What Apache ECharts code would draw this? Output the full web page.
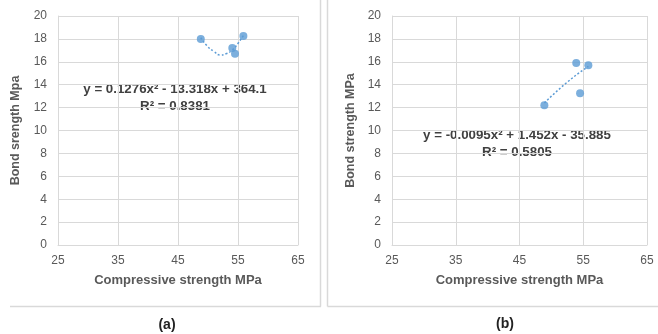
<!DOCTYPE html>
<html>
<head>
<meta charset="utf-8">
<script src="https://cdn.jsdelivr.net/npm/echarts@6/dist/echarts.min.js"></script>
<style>
  html, body { margin: 0; padding: 0; background: #fff; }
  #chart { width: 658px; height: 334px; }
</style>
</head>
<body>
<div id="chart"></div>
<script>
// panel (a): bond strength vs compressive strength
const pointsA = [[48.8, 18.0], [54.05, 17.2], [54.5, 16.7], [55.9, 18.25]];
const trendA = [[48.8, 18.1], [50, 17.3], [51, 16.9], [52, 16.6], [53, 16.7], [54, 17.0], [55, 17.6], [55.9, 18.3]];
// panel (b)
const pointsB = [[48.9, 12.2], [53.9, 15.9], [54.5, 13.25], [55.8, 15.7]];
const trendB = [[48.9, 12.4], [50, 13.0], [52, 14.0], [54, 14.9], [55.8, 15.6]];

const xTicks = [25, 35, 45, 55, 65];
const yTicks = [0, 2, 4, 6, 8, 10, 12, 14, 16, 18, 20];
const labelsA = ['y = 0.1276x\u00b2 - 13.318x + 364.1', 'R\u00b2 = 0.8381'];
const labelsB = ['y = -0.0095x\u00b2 + 1.452x - 35.885', 'R\u00b2 = 0.5805'];
const yTitles = ['Bond srength Mpa', 'Bond strength MPa'];
const xTitle = 'Compressive strength MPa';
const panelNames = ['(a)', '(b)'];

const FONT = '"Liberation Sans", Arial, sans-serif';
const BLUE = '#5B9BD5';
const GRID = '#d9d9d9';

function xAxis(gridIndex) {
    return {
        gridIndex: gridIndex,
        type: 'value',
        min: xTicks[0],
        max: xTicks[xTicks.length - 1],
        interval: 10,
        name: xTitle,
        nameLocation: 'middle',
        nameGap: 29,
        nameTextStyle: { fontFamily: FONT, fontSize: 13, fontWeight: 'bold', color: '#595959' },
        axisLine: { show: true, lineStyle: { color: GRID } },
        axisTick: { show: false },
        axisLabel: { fontFamily: FONT, fontSize: 12, color: '#595959', margin: 10 },
        splitLine: { show: true, lineStyle: { color: GRID } }
    };
}

function yAxis(gridIndex, title, gap) {
    return {
        gridIndex: gridIndex,
        type: 'value',
        min: yTicks[0],
        max: yTicks[yTicks.length - 1],
        interval: 2,
        name: title,
        nameLocation: 'middle',
        nameGap: gap,
        nameTextStyle: { fontFamily: FONT, fontSize: 12.5, fontWeight: 'bold', color: '#595959' },
        axisLine: { show: true, lineStyle: { color: GRID } },
        axisTick: { show: false },
        axisLabel: { fontFamily: FONT, fontSize: 12, color: '#595959', margin: 11 },
        splitLine: { show: true, lineStyle: { color: GRID } }
    };
}

function scatter(idx, data) {
    return {
        type: 'scatter',
        xAxisIndex: idx,
        yAxisIndex: idx,
        data: data,
        symbolSize: 8,
        itemStyle: { color: BLUE },
        z: 3
    };
}

function trend(idx, data, smooth) {
    return {
        type: 'line',
        xAxisIndex: idx,
        yAxisIndex: idx,
        data: data,
        smooth: smooth,
        showSymbol: false,
        lineStyle: { color: BLUE, width: 1.5, type: [2, 2] },
        z: 2
    };
}

function eqText(cx, top, lines) {
    return {
        type: 'text',
        x: cx,
        y: top,
        style: {
            text: lines.join('\n'),
            align: 'center',
            verticalAlign: 'top',
            lineHeight: 17,
            fontFamily: FONT,
            fontSize: 13.3,
            fontWeight: 'bold',
            fill: '#404040'
        }
    };
}

const chart = echarts.init(document.getElementById('chart'));

chart.setOption({
    animation: false,
    grid: [
        { left: 58, right: 360, top: 16, bottom: 89 },
        { left: 392, right: 11, top: 16, bottom: 89 }
    ],
    xAxis: [xAxis(0), xAxis(1)],
    yAxis: [yAxis(0, yTitles[0], 36), yAxis(1, yTitles[1], 35)],
    series: [
        trend(0, trendA, true),
        scatter(0, pointsA),
        trend(1, trendB, false),
        scatter(1, pointsB)
    ],
    graphic: [
        // panel frames
        { type: 'line', shape: { x1: 10, y1: 306.5, x2: 321, y2: 306.5 }, style: { stroke: GRID, lineWidth: 1.5 } },
        { type: 'line', shape: { x1: 320.5, y1: 0, x2: 320.5, y2: 306.5 }, style: { stroke: GRID, lineWidth: 1.5 } },
        { type: 'line', shape: { x1: 327.5, y1: 0, x2: 327.5, y2: 306.5 }, style: { stroke: GRID, lineWidth: 1.5 } },
        { type: 'line', shape: { x1: 327.5, y1: 306.5, x2: 658, y2: 306.5 }, style: { stroke: GRID, lineWidth: 1.5 } },
        eqText(175, 81, labelsA),
        eqText(517, 127, labelsB),
        {
            type: 'text', x: 167, y: 325,
            style: { text: panelNames[0], align: 'center', verticalAlign: 'middle', fontFamily: FONT, fontSize: 14, fontWeight: 'bold', fill: '#222' }
        },
        {
            type: 'text', x: 505, y: 324,
            style: { text: panelNames[1], align: 'center', verticalAlign: 'middle', fontFamily: FONT, fontSize: 14, fontWeight: 'bold', fill: '#222' }
        }
    ]
});
</script>
</body>
</html>
